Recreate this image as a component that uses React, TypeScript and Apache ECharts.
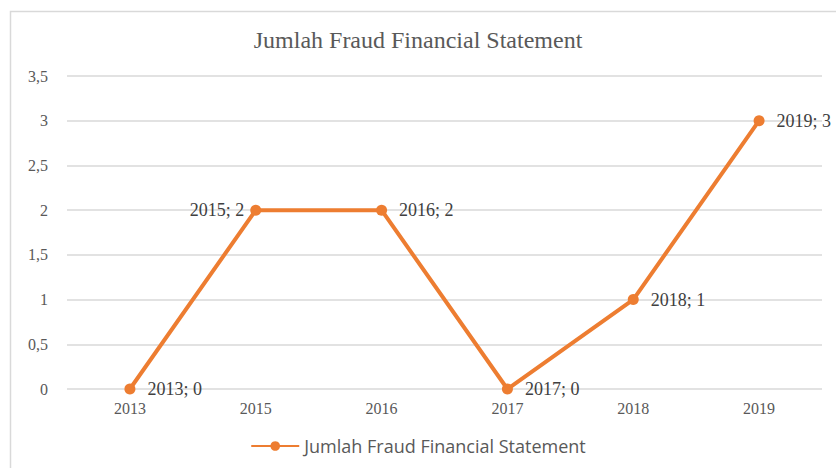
import React, { useEffect, useRef } from "react";
import * as echarts from "echarts";

const categories = ["2013", "2015", "2016", "2017", "2018", "2019"];
const values = [0, 2, 2, 0, 1, 3];
const labelSides = ["right", "left", "right", "right", "right", "right"];
const seriesName = "Jumlah Fraud Financial Statement";
const titleText = "Jumlah Fraud Financial Statement";

const serif = "'Liberation Serif', 'Times New Roman', serif";

export default function App() {
  const ref = useRef<HTMLDivElement>(null);
  useEffect(() => {
    if (!ref.current) return;
    const chart = echarts.init(ref.current, null, { renderer: "svg" });
    chart.setOption({
      animation: false,
      backgroundColor: "#ffffff",
      title: {
        text: titleText,
        left: "center",
        top: 23,
        textStyle: {
          fontFamily: serif,
          fontSize: 24,
          fontWeight: "normal",
          color: "#595959",
        },
      },
      graphic: [
        {
          type: "rect",
          shape: { x: 10.5, y: 11.5, width: 900, height: 600 },
          style: { fill: "none", stroke: "#d9d9d9", lineWidth: 1.5 },
          silent: true,
        },
      ],
      grid: { left: 67, top: 76, width: 755, height: 313, containLabel: false },
      xAxis: {
        type: "category",
        data: categories,
        boundaryGap: true,
        axisLine: { show: false },
        axisTick: { show: false },
        axisLabel: {
          fontFamily: serif,
          fontSize: 16,
          color: "#595959",
          margin: 11,
        },
      },
      yAxis: {
        type: "value",
        min: 0,
        max: 3.5,
        interval: 0.5,
        axisLine: { show: false },
        axisTick: { show: false },
        splitLine: { lineStyle: { color: "#d9d9d9", width: 1.5 } },
        axisLabel: {
          fontFamily: serif,
          fontSize: 16,
          color: "#595959",
          margin: 19,
          formatter: (v: number) => String(v).replace(".", ","),
        },
      },
      legend: {
        bottom: 8,
        left: "center",
        itemWidth: 48,
        itemHeight: 12,
        itemGap: 4,
        data: [seriesName],
        textStyle: {
          fontFamily: "'Open Sans', 'Noto Sans', sans-serif",
          fontSize: 18,
          color: "#595959",
        },
      },
      series: [
        {
          name: seriesName,
          type: "line",
          data: values.map((v, i) =>
            labelSides[i] === "left"
              ? { value: v, label: { position: "left", distance: 6 } }
              : v
          ),
          symbol: "circle",
          symbolSize: 11,
          itemStyle: { color: "#ED7D31" },
          lineStyle: { color: "#ED7D31", width: 4 },
          label: {
            show: true,
            position: "right",
            distance: 12,
            fontFamily: serif,
            fontSize: 18,
            color: "#404040",
            formatter: (p: any) => `${p.name}; ${p.value}`,
          },
        },
      ],
    });
    return () => chart.dispose();
  }, []);
  return (
    <div
      ref={ref}
      style={{ position: "fixed", left: 0, top: 0, width: 836, height: 468 }}
    />
  );
}
